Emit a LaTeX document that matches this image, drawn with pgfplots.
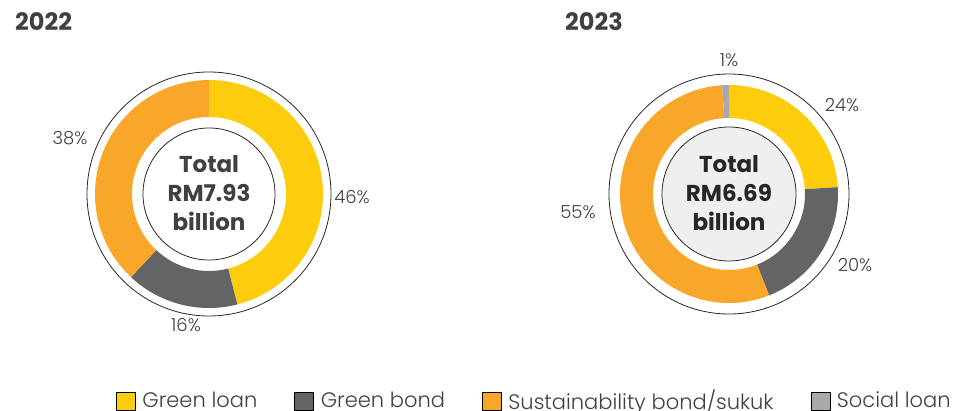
\documentclass[border=0pt]{standalone}
\usepackage{pgfplots}
\pgfplotsset{compat=1.18}
\usepackage{fontspec}
\setmainfont{Poppins}
\newfontfamily\poplight{Poppins}[UprightFont=* Light]
\definecolor{gloan}{HTML}{FDCD0D}
\definecolor{gbond}{HTML}{636466}
\definecolor{sust}{HTML}{F9A72A}
\definecolor{social}{HTML}{A7A9AC}
\definecolor{txt}{HTML}{404040}
\definecolor{innerfill}{HTML}{EFEFEF}
% slice: cx, cy, rin, rout, cumulative start %, cumulative end %, colour
\newcommand{\slice}[7]{%
  \fill[#7] (axis cs:#1,#2) ++({90-(#5)*3.6}:#4pt)
    arc[start angle={90-(#5)*3.6}, end angle={90-(#6)*3.6}, radius=#4pt]
    -- ++({90-(#6)*3.6+180}:{(#4-#3)*1pt})
    arc[start angle={90-(#6)*3.6}, end angle={90-(#5)*3.6}, radius=#3pt]
    -- cycle;}
\begin{document}
\begin{tikzpicture}
\begin{axis}[
  scale only axis, width=958pt, height=410pt,
  xmin=0, xmax=958, ymin=0, ymax=410,
  hide axis, clip=false,
  legend columns=4,
  legend style={draw=none, fill=none, inner sep=0pt, outer sep=0pt,
    at={(axis cs:116,10)}, anchor=west,
    nodes={inner sep=0pt},
    font=\poplight\fontsize{21}{24}\selectfont\color{txt},
    /tikz/every even column/.append style={column sep=37pt}},
  legend image code/.code={\fill[#1] (0pt,-10pt) rectangle (19pt,8pt); \path (26pt,0pt);},
]
% 2022: Green loan 46, Green bond 16, Sustainability 38
\slice{209}{216}{77}{114}{0}{46}{gloan}
\slice{209}{216}{77}{114}{46}{46+16}{gbond}
\slice{209}{216}{77}{114}{46+16}{46+16+38}{sust}
\draw[line width=0.8pt, black!85] (axis cs:209,216) circle[radius=122pt];
\draw[line width=0.8pt, black!85] (axis cs:209,216) circle[radius=66pt];
% 2023: Green loan 24, Green bond 20, Sustainability 55, Social 1
\fill[innerfill] (axis cs:729,216) circle[radius=67pt];
\slice{729}{216}{76}{109}{0}{24}{gloan}
\slice{729}{216}{76}{109}{24}{24+20}{gbond}
\slice{729}{216}{76}{109}{24+20}{24+20+55}{sust}
\slice{729}{216}{76}{109}{24+20+55}{24+20+55+1}{social}
\draw[line width=0.8pt, black!85] (axis cs:729,216) circle[radius=120pt];
\draw[line width=0.8pt, black!85] (axis cs:729,216) circle[radius=67pt];
% centre texts
\node[align=center, font=\bfseries\fontsize{23}{29}\selectfont, text=txt] at (axis cs:209,217) {Total\\RM7.93\\billion};
\node[align=center, font=\bfseries\fontsize{23}{29}\selectfont, text=black!85] at (axis cs:729,217) {Total\\RM6.69\\billion};
% titles
\node[anchor=west, font=\bfseries\fontsize{24}{26}\selectfont, text=txt, inner sep=0pt] at (axis cs:15,388) {2022};
\node[anchor=west, font=\bfseries\fontsize{24}{26}\selectfont, text=txt, inner sep=0pt] at (axis cs:565,388) {2023};
% percentage labels
\begin{scope}[every node/.style={font=\poplight\fontsize{18}{20}\selectfont, text=txt, inner sep=0pt}]
\node at (axis cs:352,213) {46\%};
\node at (axis cs:186,85) {16\%};
\node at (axis cs:70,272) {38\%};
\node at (axis cs:729,350) {1\%};
\node at (axis cs:842,305) {24\%};
\node at (axis cs:855,145) {20\%};
\node at (axis cs:578,198) {55\%};
\end{scope}
\addlegendimage{fill=gloan}
\addlegendentry{Green loan}
\addlegendimage{fill=gbond}
\addlegendentry{Green bond}
\addlegendimage{fill=sust}
\addlegendentry{Sustainability bond/sukuk}
\addlegendimage{fill=social}
\addlegendentry{Social loan}
\end{axis}
\pgfresetboundingbox
\path[use as bounding box] (0,0) rectangle (958pt,410pt);
\end{tikzpicture}
\end{document}
